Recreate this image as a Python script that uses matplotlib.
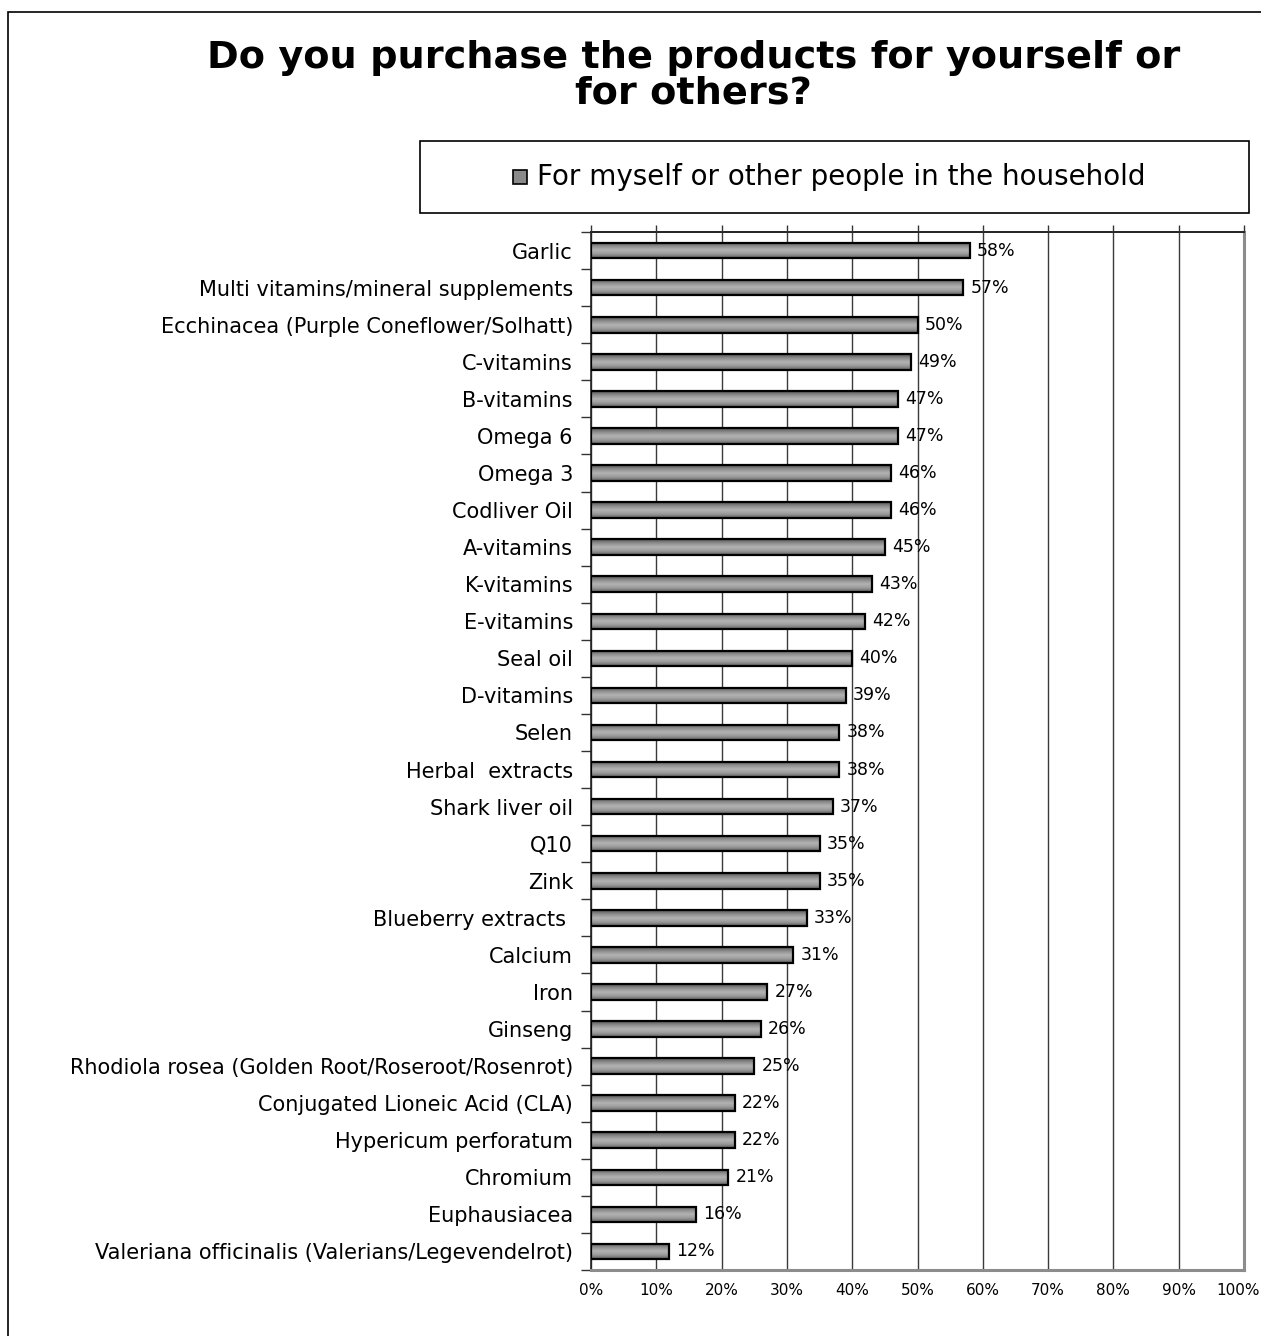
import numpy as np
import matplotlib
matplotlib.use("Agg")
import matplotlib.pyplot as plt
import matplotlib.transforms as mtransforms
from matplotlib.colors import LinearSegmentedColormap
from matplotlib.patches import Rectangle
from matplotlib.ticker import FixedLocator

plt.rcParams['font.family'] = ['DejaVu Sans']

categories = [
    "Garlic",
    "Multi vitamins/mineral supplements",
    "Ecchinacea (Purple Coneflower/Solhatt)",
    "C-vitamins",
    "B-vitamins",
    "Omega 6",
    "Omega 3",
    "Codliver Oil",
    "A-vitamins",
    "K-vitamins",
    "E-vitamins",
    "Seal oil",
    "D-vitamins",
    "Selen",
    "Herbal  extracts",
    "Shark liver oil",
    "Q10",
    "Zink",
    "Blueberry extracts ",
    "Calcium",
    "Iron",
    "Ginseng",
    "Rhodiola rosea (Golden Root/Roseroot/Rosenrot)",
    "Conjugated Lioneic Acid (CLA)",
    "Hypericum perforatum",
    "Chromium",
    "Euphausiacea",
    "Valeriana officinalis (Valerians/Legevendelrot)",
]
values = [58, 57, 50, 49, 47, 47, 46, 46, 45, 43, 42, 40, 39, 38, 38, 37,
          35, 35, 33, 31, 27, 26, 25, 22, 22, 21, 16, 12]
x_ticks = list(range(0, 101, 10))
series_name = "For myself or other people in the household"
title = "Do you purchase the products for yourself or\nfor others?"

fig = plt.figure(figsize=(12.61, 13.36), dpi=100)

# outer chart frame (only left and top edges fall inside the page)
fig.add_artist(Rectangle((0.0063, -0.2), 1.5, 0.2 + 0.9910, transform=fig.transFigure,
                         fill=False, edgecolor="black", linewidth=1.2))

fig.text(0.550, 0.943, title, ha="center", va="center", fontsize=27.5,
         fontweight="bold", linespacing=0.98)

ax = fig.add_axes([0.4687, 0.0494, 0.5178, 0.7769])
n = len(categories)
y = np.arange(n)
bars = ax.barh(y, values, height=0.42, color="none", edgecolor="black",
               linewidth=1.6, zorder=3)

# metallic grey fill for each bar
shade = LinearSegmentedColormap.from_list(
    "shade", ["#555555", "#8e8e8e", "#b4b4b4", "#9a9a9a", "#606060"])
grad = np.linspace(0, 1, 64).reshape(-1, 1)
for b in bars:
    x0, y0, w, h = b.get_x(), b.get_y(), b.get_width(), b.get_height()
    ax.imshow(grad, cmap=shade, aspect="auto", extent=(x0, x0 + w, y0 + h, y0),
              zorder=2, interpolation="bicubic")

for yi, v in zip(y, values):
    ax.text(v + 1.1, yi, f"{v}%", va="center", ha="left", fontsize=12.5, zorder=4)

ax.set_xlim(0, 100)
ax.set_ylim(n - 0.5, -0.5)
ax.set_xticks(x_ticks)
ax.set_xticklabels([f"{t}%" for t in x_ticks], fontsize=11)
ax.tick_params(axis="x", length=0, pad=9)
ax.xaxis.grid(True, color="#3a3a3a", linewidth=1.0, zorder=1)

# nudge the last tick label so it stays on the page
last = ax.get_xticklabels()[-1]
last.set_transform(last.get_transform() +
                   mtransforms.ScaledTranslation(-4 / 72, 0, fig.dpi_scale_trans))

ax.set_yticks(y)
ax.set_yticklabels(categories, fontsize=15)
ax.tick_params(axis="y", which="major", length=0, pad=13)
ax.yaxis.set_minor_locator(FixedLocator(np.arange(-0.5, n, 1.0)))
ax.tick_params(axis="y", which="minor", length=7, width=1.0, color="#333333")

# small tick marks above the top axis line
ax2 = ax.twiny()
ax2.set_xlim(0, 100)
ax2.set_xticks(x_ticks)
ax2.set_xticklabels([])
ax2.tick_params(axis="x", length=5, width=1.0, color="#333333")
for s in ax2.spines.values():
    s.set_visible(False)

ax.spines["top"].set_color("#222222")
ax.spines["top"].set_linewidth(1.4)
ax.spines["left"].set_color("#222222")
ax.spines["left"].set_linewidth(1.2)
ax.spines["right"].set_color("#8c8c8c")
ax.spines["right"].set_linewidth(2.2)
ax.spines["bottom"].set_color("#8c8c8c")
ax.spines["bottom"].set_linewidth(2.2)

# legend box
lx0, lx1 = 420 / 1261, 1249 / 1261
ly0, ly1 = 1 - 213 / 1336, 1 - 141 / 1336
fig.add_artist(Rectangle((lx0, ly0), lx1 - lx0, ly1 - ly0, transform=fig.transFigure,
                         fill=False, edgecolor="black", linewidth=1.2))
ym = (ly0 + ly1) / 2
fig.add_artist(Rectangle((513 / 1261, ym - 7 / 1336), 14 / 1261, 14 / 1336,
                         transform=fig.transFigure, facecolor="#8a8a8a",
                         edgecolor="black", linewidth=1.2))
fig.text(537 / 1261, ym, series_name, ha="left", va="center", fontsize=20)

fig.savefig("out.png", dpi=100)
